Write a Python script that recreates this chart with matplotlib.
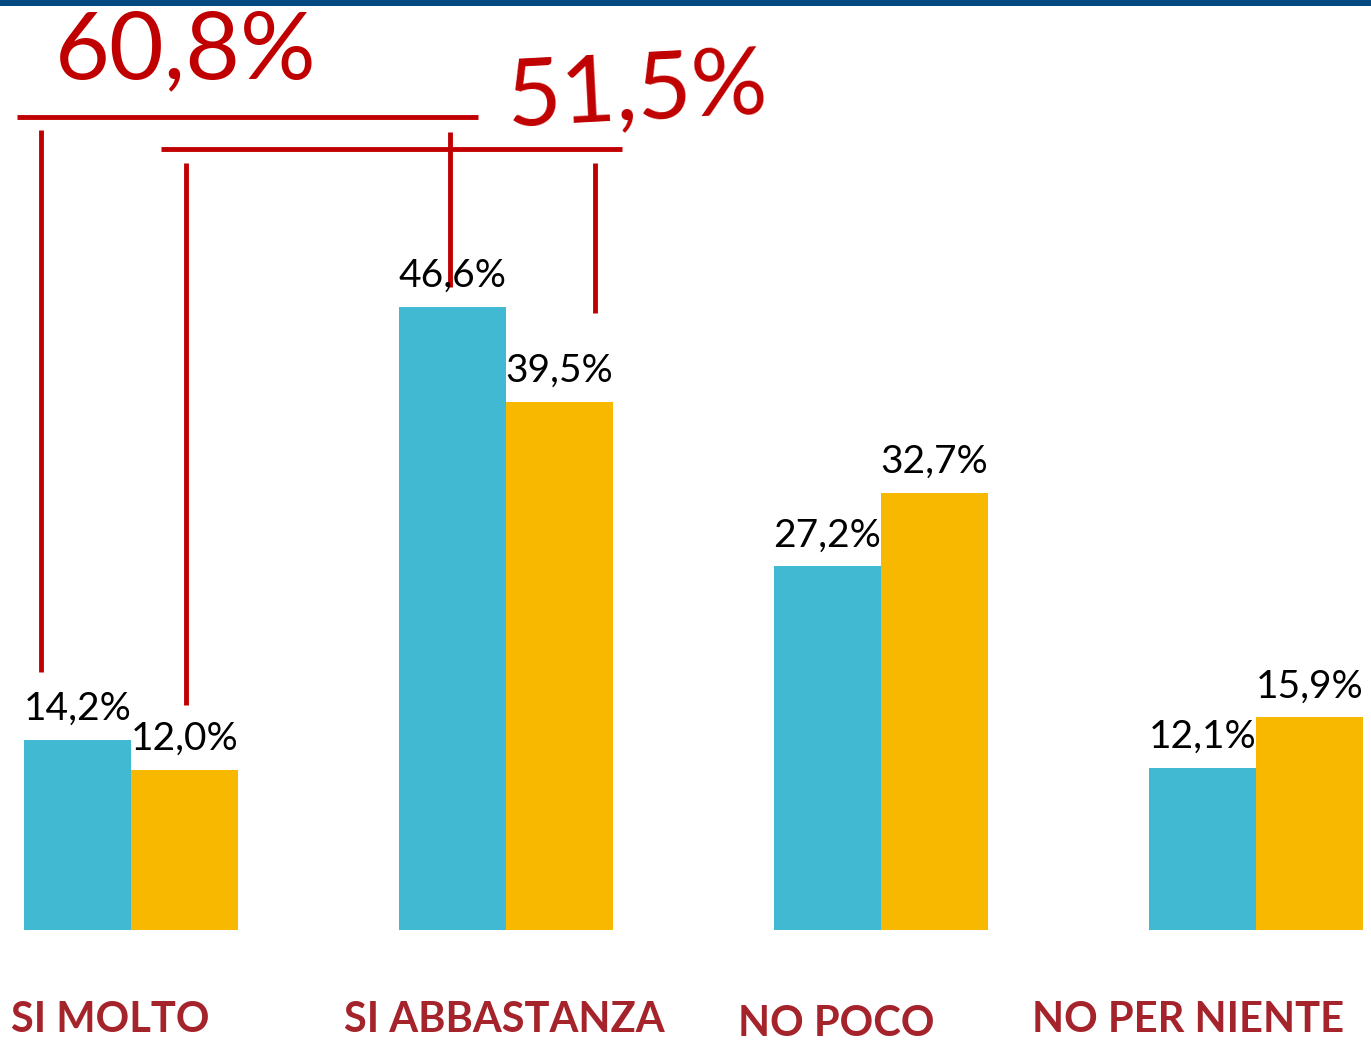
import numpy as np
import matplotlib.pyplot as plt

categories = ['SI MOLTO', 'SI ABBASTANZA', 'NO POCO', 'NO PER NIENTE']
serie_a = [14.2, 46.6, 27.2, 12.1]
serie_b = [12.0, 39.5, 32.7, 15.9]
totale_si_a = 60.8
totale_si_b = 51.5

blu = '#42B9D3'
giallo = '#F8B800'
rosso = '#C00000'
bordeaux = '#A5232B'

W, H = 1371, 1042
fig = plt.figure(figsize=(W / 100, H / 100), dpi=100)
ax = fig.add_axes([0, 0, 1, 1])

# pixel -> data: group spacing 375 px, 13.37 px per percentage point
px_unit = 375.0
py_unit = 13.37
x0_px, base_px = 131, 930
ax.set_xlim(-x0_px / px_unit, (W - x0_px) / px_unit)
ax.set_ylim(-(H - base_px) / py_unit, base_px / py_unit)
ax.axis('off')

def to_data(xp, yp):
    return (xp - x0_px) / px_unit, (base_px - yp) / py_unit

x = np.arange(len(categories))
w = 107 / px_unit
bars_a = ax.bar(x - w / 2, serie_a, w, color=blu)
bars_b = ax.bar(x + w / 2, serie_b, w, color=giallo)

lab_off = 20 / py_unit
for bars, vals in ((bars_a, serie_a), (bars_b, serie_b)):
    for b, v in zip(bars, vals):
        ax.text(b.get_x() + b.get_width() / 2, v + lab_off,
                f'{v:.1f}%'.replace('.', ','), ha='center', va='baseline',
                fontsize=28, family='Lato', color='black')

# category labels
cat_pos = [(110, 1020), (504, 1020), (836, 1024), (1188, 1020)]
for name, (xp, yp) in zip(categories, cat_pos):
    xd, yd = to_data(xp, yp)
    ax.text(xd, yd, name, ha='center', va='center', fontsize=30,
            family='Lato', fontweight='bold', color=bordeaux)

# top band
fig.add_artist(plt.Rectangle((0, 1 - 6 / H), 1, 6 / H, transform=fig.transFigure,
                             color='#034A83', lw=0))

# handwritten annotations
segs = [((41, 130), (41, 672)), ((186, 163), (186, 705)),
        ((17, 117), (478, 117)), ((450, 132), (450, 287)),
        ((161, 149), (622, 149)), ((595, 163), (595, 313))]
for (xa, ya), (xb, yb) in segs:
    p1 = to_data(xa, ya)
    p2 = to_data(xb, yb)
    ax.plot([p1[0], p2[0]], [p1[1], p2[1]], color=rosso, lw=3.5,
            solid_capstyle='butt')

xt, yt = to_data(55, 78)
ax.text(xt, yt, f'{totale_si_a:.1f}%'.replace('.', ','), fontsize=68,
        color=rosso, family='Lato', fontweight='normal',
        va='baseline', ha='left')
xt, yt = to_data(505, 125)
ax.text(xt, yt, f'{totale_si_b:.1f}%'.replace('.', ','), fontsize=68,
        color=rosso, family='Lato', fontweight='normal',
        va='baseline', ha='left', rotation=3)

fig.savefig('out.png', dpi=100, facecolor='white')
